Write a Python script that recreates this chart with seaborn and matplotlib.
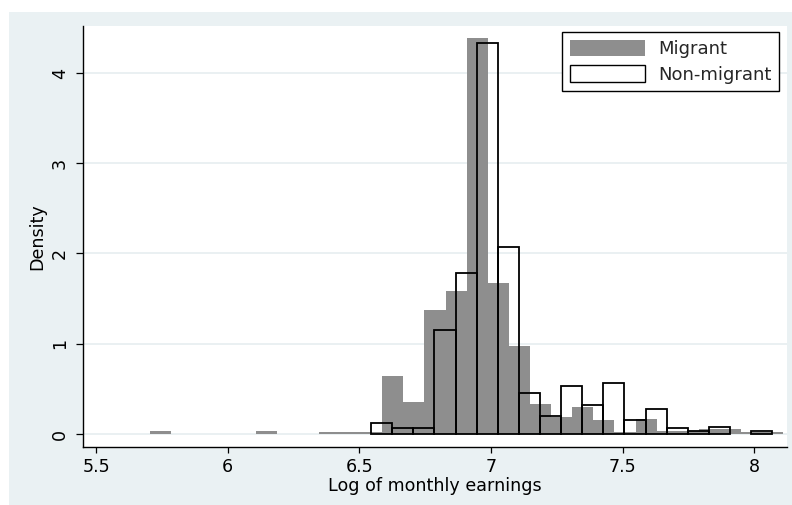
import numpy as np
import pandas as pd
import matplotlib
matplotlib.use("Agg")
import matplotlib.pyplot as plt
from matplotlib.patches import Patch, Rectangle
import seaborn as sns

# Histogram bins (log monthly earnings)
bin_width = 0.0802
migrant_start = 5.705
nonmigrant_start = 6.545

# Density per bin
migrant_density = [
    0.03, 0.0, 0.0, 0.0, 0.0, 0.03, 0.0, 0.0, 0.025, 0.025,
    0.025, 0.64, 0.36, 1.37, 1.58, 4.39, 1.67, 0.98, 0.33, 0.185,
    0.30, 0.15, 0.025, 0.17, 0.03, 0.03, 0.05, 0.05, 0.025, 0.02,
]
nonmigrant_density = [
    0.12, 0.07, 0.07, 1.15, 1.78, 4.33, 2.07, 0.45, 0.20, 0.53,
    0.32, 0.57, 0.155, 0.28, 0.07, 0.033, 0.074, 0.0, 0.033,
]

group_labels = ["Migrant", "Non-migrant"]
x_ticks = [5.5, 6, 6.5, 7, 7.5, 8]
x_tick_labels = ["5.5", "6", "6.5", "7", "7.5", "8"]
y_ticks = [0, 1, 2, 3, 4]
y_tick_labels = ["0", "1", "2", "3", "4"]
x_title = "Log of monthly earnings"
y_title = "Density"


def bin_table(start, density):
    n = len(density)
    edges = [float(start + bin_width * i) for i in range(n + 1)]
    centers = [(edges[i] + edges[i + 1]) / 2 for i in range(n)]
    return pd.DataFrame({"earnings": centers, "density": density}), edges


mig_df, mig_edges = bin_table(migrant_start, migrant_density)
non_df, non_edges = bin_table(nonmigrant_start, nonmigrant_density)

sns.set_theme(style="white")
plt.rcParams["font.family"] = ["DejaVu Sans"]

PANEL = "#EAF1F3"
GRID = "#E6EEF0"
GRAY = "#8E8E8E"
FS = 12.6

fig = plt.figure(figsize=(7.92, 5.05), dpi=100)
fig.patch.set_facecolor("white")
fig.patches.append(Rectangle((9 / 792, 0), 1 - 9 / 792, 1 - 12 / 505,
                             transform=fig.transFigure, facecolor=PANEL,
                             edgecolor="none", zorder=-5))

ax = fig.add_axes([83 / 792, 1 - 447 / 505, (787 - 83) / 792, (447 - 26) / 505])
ax.set_zorder(1)
ax.set_facecolor("white")

sns.histplot(data=mig_df, x="earnings", weights="density", bins=mig_edges,
             stat="count", color=GRAY, alpha=1.0, linewidth=0, ax=ax, zorder=2)
n_before = len(ax.patches)
sns.histplot(data=non_df, x="earnings", weights="density", bins=non_edges,
             stat="count", fill=False, color="black", linewidth=1.3, ax=ax,
             zorder=3)
for p in ax.patches[n_before:]:
    if p.get_height() <= 0:
        p.set_visible(False)

ax.set_xlim(5.45, 8.125)
ax.set_ylim(-0.144, 4.52)

ax.set_xticks(x_ticks)
ax.set_xticklabels(x_tick_labels)
ax.set_yticks(y_ticks)
ax.set_yticklabels(y_tick_labels, rotation=90, va="center")

ax.yaxis.grid(True, color=GRID, linewidth=1.2, zorder=0)
ax.xaxis.grid(False)
ax.set_axisbelow(True)

for side in ["top", "right"]:
    ax.spines[side].set_visible(False)
for side in ["left", "bottom"]:
    ax.spines[side].set_color("black")
    ax.spines[side].set_linewidth(1.0)

ax.tick_params(axis="x", direction="out", length=4.5, width=0.9, pad=3.5,
               labelsize=FS, colors="black", bottom=True)
ax.tick_params(axis="y", direction="out", length=5, width=0.9, pad=5.0,
               labelsize=FS, colors="black", left=True)

ax.set_xlabel(x_title, fontsize=FS, labelpad=0.5, color="black")
ax.set_ylabel(y_title, fontsize=FS, labelpad=3.5, color="black")

handles = [
    Patch(facecolor=GRAY, edgecolor="none"),
    Patch(facecolor="white", edgecolor="black", linewidth=1.0),
]
leg = ax.legend(handles, group_labels, loc="upper right",
                bbox_to_anchor=(779.3 / 792, 1 - 32.3 / 505),
                bbox_transform=fig.transFigure, fontsize=13,
                frameon=True, fancybox=False, shadow=False,
                handlelength=4.19, handleheight=1.0, handletextpad=0.72,
                labelspacing=0.4, borderpad=0.42, borderaxespad=0)
leg.get_frame().set_edgecolor("black")
leg.get_frame().set_linewidth(1.0)
leg.get_frame().set_facecolor("white")
leg.get_frame().set_alpha(1.0)

fig.savefig("out.png", dpi=100, facecolor=fig.get_facecolor())
